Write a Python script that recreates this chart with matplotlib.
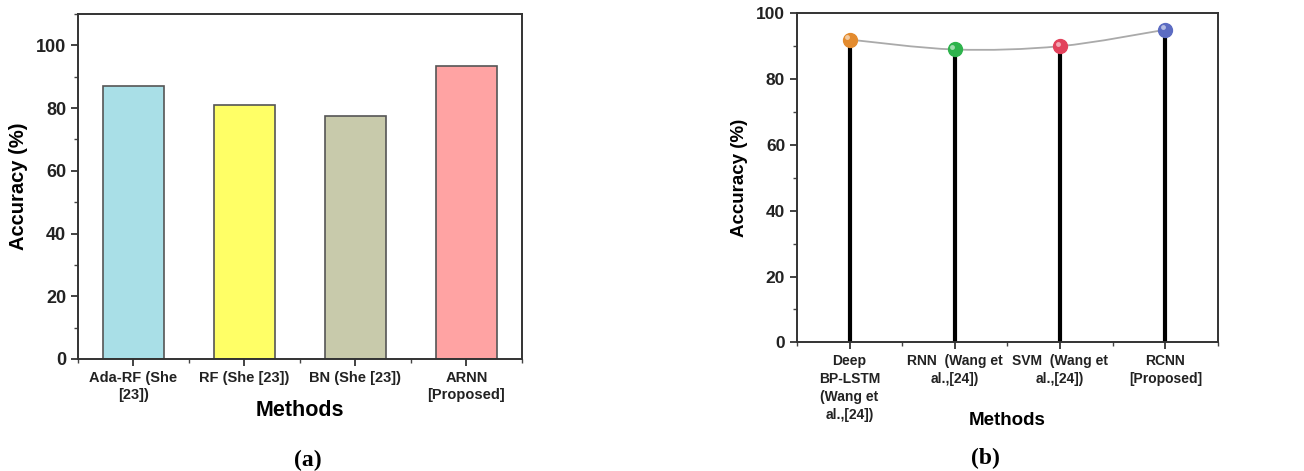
import matplotlib.pyplot as plt
from matplotlib.path import Path
from matplotlib.patches import PathPatch
from matplotlib.ticker import MultipleLocator
from matplotlib import transforms

# Panel (a) data
methods_a = ["Ada-RF (She\n[23])", "RF (She [23])", "BN (She [23])", "ARNN\n[Proposed]"]
acc_a = [86.9, 80.9, 77.5, 93.4]
colors_a = ["#A9DFE7", "#FFFF66", "#C8CAAB", "#FFA3A3"]

# Panel (b) data
methods_b = ["Deep\nBP-LSTM\n(Wang et\nal.,[24])", "RNN  (Wang et\nal.,[24])",
             "SVM  (Wang et\nal.,[24])", "RCNN\n[Proposed]"]
acc_b = [92, 89, 90, 95]
colors_b = ["#E38B2E", "#2EB34C", "#E2425C", "#5B6BC2"]

plt.rcParams['font.family'] = ['Liberation Sans', 'DejaVu Sans']
plt.rcParams['font.weight'] = 'bold'

fig = plt.figure(figsize=(13.04, 4.71), dpi=100)
ax1 = fig.add_axes([0.0598, 0.2378, 0.3405, 0.7325])
ax2 = fig.add_axes([0.6112, 0.2732, 0.3228, 0.6986])


def style_axes(ax, fs):
    for s in ax.spines.values():
        s.set_linewidth(1.4)
        s.set_color("#333333")
    ax.tick_params(which="major", direction="out", length=5, width=1.2, colors="#222222")
    ax.tick_params(which="minor", direction="out", length=3, width=1.0, colors="#444444")
    ax.tick_params(axis="y", labelsize=fs)
    ax.yaxis.set_minor_locator(MultipleLocator(10))
    ax.xaxis.set_minor_locator(MultipleLocator(0.5))
    for t in ax.get_yticklabels():
        t.set_fontweight("bold")


# ---- (a) bar chart
x = [1, 2, 3, 4]
ax1.bar(x, acc_a, width=0.55, color=colors_a, edgecolor="#555555", linewidth=1.2, zorder=2)
ax1.set_xlim(0.5, 4.5)
ax1.set_ylim(0, 110)
ax1.set_yticks([0, 20, 40, 60, 80, 100])
ax1.set_xticks(x)
ax1.set_xticklabels(methods_a, fontsize=10.5, fontweight="bold", color="#222222", linespacing=1.3)
style_axes(ax1, 13)
ax1.set_ylabel("Accuracy (%)", fontsize=14.5, fontweight="bold", labelpad=6)
ax1.set_xlabel("Methods", fontsize=15.5, fontweight="bold", va="center")
ax1.xaxis.set_label_coords(0.5, -0.148)

# ---- (b) stem chart with smooth line
ax2.set_xlim(0.5, 4.5)
ax2.set_ylim(0, 100)
ax2.set_yticks([0, 20, 40, 60, 80, 100])
ax2.set_xticks(x)
ax2.set_xticklabels(methods_b, fontsize=10, fontweight="bold", color="#222222", linespacing=1.35)
style_axes(ax2, 12.5)
ax2.set_ylabel("Accuracy (%)", fontsize=13.5, fontweight="bold", labelpad=6)
ax2.set_xlabel("Methods", fontsize=13.5, fontweight="bold", va="center")
ax2.xaxis.set_label_coords(0.5, -0.239)

ax2.vlines(x, 0, acc_b, color="black", linewidth=3, zorder=2)

# smooth curve through points (Catmull-Rom as cubic Bezier)
pts = list(zip(x, acc_b))
ext = [pts[0]] + pts + [pts[-1]]
verts = [pts[0]]
codes = [Path.MOVETO]
for i in range(1, len(ext) - 2):
    p0, p1, p2, p3 = ext[i - 1], ext[i], ext[i + 1], ext[i + 2]
    c1 = (p1[0] + (p2[0] - p0[0]) / 6, p1[1] + (p2[1] - p0[1]) / 6)
    c2 = (p2[0] - (p3[0] - p1[0]) / 6, p2[1] - (p3[1] - p1[1]) / 6)
    verts += [c1, c2, p2]
    codes += [Path.CURVE4] * 3
ax2.add_patch(PathPatch(Path(verts, codes), facecolor="none", edgecolor="#AAAAAA", linewidth=1.3, zorder=3))

hl = transforms.offset_copy(ax2.transData, fig=fig, x=-1.8, y=1.8, units="points")
for xi, yi, c in zip(x, acc_b, colors_b):
    ax2.plot(xi, yi, "o", markersize=10, color=c, markeredgecolor=c, zorder=4, clip_on=False)
    ax2.plot(xi, yi, "o", markersize=3.5, color="white", alpha=0.55, markeredgewidth=0,
             transform=hl, zorder=5, clip_on=False)

# captions
fig.text(0.236, 0.023, "(a)", fontsize=17, fontweight="bold", family="Liberation Serif",
         ha="center", va="center")
fig.text(0.756, 0.027, "(b)", fontsize=17, fontweight="bold", family="Liberation Serif",
         ha="center", va="center")

fig.savefig("out.png", dpi=100)
